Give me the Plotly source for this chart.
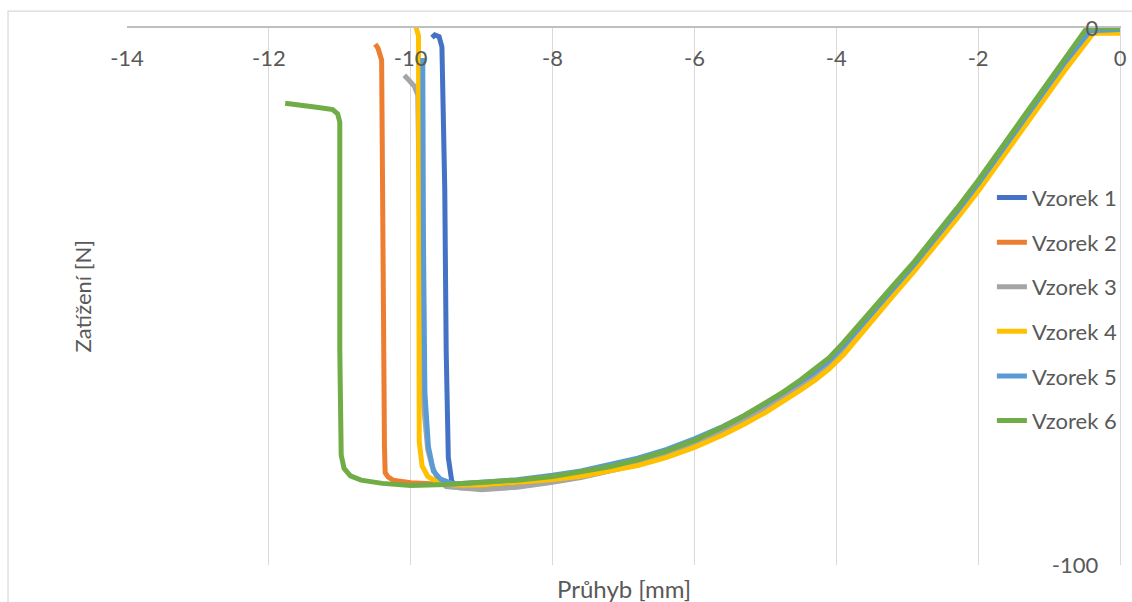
import plotly.graph_objects as go

# Load–deflection records of six specimens (deflection in mm, load in N)
v1_x = [0, -0.40, -0.46, -0.8, -1.1, -1.4, -1.7, -2.0, -2.3, -2.6, -2.9, -3.2, -3.5, -3.7, -3.9,
        -4.1, -4.3, -4.5, -4.75, -5.0, -5.3, -5.6, -6.0, -6.4, -6.8, -7.2, -7.6, -8.0, -8.5, -9.0, -9.3,
        -9.42, -9.47, -9.50, -9.52, -9.54, -9.56, -9.60, -9.66, -9.70]
v1_y = [0, 0, -0.5, -7.2, -12.9, -18.5, -24.0, -29.5, -34.7, -39.7, -44.5, -49.1, -53.6, -56.8, -59.8,
        -62.4, -64.5, -66.3, -68.5, -70.5, -72.8, -74.8, -77.2, -79.3, -81.0, -82.4, -83.5, -84.4, -85.2, -85.6, -85.6,
        -84.5, -80.0, -60.0, -30.0, -8.0, -3.5, -1.6, -1.3, -1.8]

v2_x = [0, -0.42, -0.48, -0.8, -1.1, -1.4, -1.7, -2.0, -2.3, -2.6, -2.9, -3.2, -3.5, -3.7, -3.9,
        -4.1, -4.3, -4.5, -4.75, -5.0, -5.3, -5.6, -6.0, -6.4, -6.8, -7.2, -7.6, -8.0, -8.5, -9.0, -9.5,
        -10.0, -10.25, -10.32, -10.36, -10.37, -10.38, -10.39, -10.41, -10.46, -10.50]
v2_y = [0, 0, -0.6, -7.0, -12.7, -18.3, -23.8, -29.3, -34.5, -39.5, -44.3, -48.9, -53.4, -56.6, -59.6,
        -62.2, -64.3, -66.1, -68.3, -70.3, -72.6, -74.6, -77.0, -79.0, -80.6, -81.9, -82.9, -83.7, -84.4, -84.8, -85.0,
        -84.7, -84.2, -83.6, -82.8, -78.0, -50.0, -20.0, -6.0, -3.8, -3.0]

v3_x = [0, -0.42, -0.48, -0.8, -1.1, -1.4, -1.7, -2.0, -2.3, -2.6, -2.9, -3.2, -3.5, -3.7, -3.9,
        -4.1, -4.3, -4.5, -4.75, -5.0, -5.3, -5.6, -6.0, -6.4, -6.8, -7.2, -7.6, -8.0, -8.5, -9.0, -9.5,
        -9.62, -9.70, -9.76, -9.82, -9.86, -9.88, -9.90, -9.95, -10.02, -10.09]
v3_y = [0, 0, -0.7, -7.3, -13.0, -18.6, -24.1, -29.6, -34.8, -39.8, -44.6, -49.2, -53.8, -57.0, -60.0,
        -62.6, -64.7, -66.5, -68.7, -70.8, -73.1, -75.1, -77.5, -79.6, -81.3, -82.6, -83.7, -84.6, -85.5, -86.0, -85.4,
        -84.0, -81.5, -78.5, -70.0, -50.0, -25.0, -12.5, -10.8, -9.8, -8.8]

v4_x = [0, -0.38, -0.8, -1.1, -1.4, -1.7, -2.0, -2.3, -2.6, -2.9, -3.2, -3.5, -3.7, -3.9,
        -4.1, -4.3, -4.5, -4.75, -5.0, -5.3, -5.6, -6.0, -6.4, -6.8, -7.2, -7.6, -8.0, -8.5, -9.0, -9.4,
        -9.65, -9.76, -9.84, -9.88, -9.89, -9.89, -9.89, -9.93, -10.02]
v4_y = [-1.0, -1.0, -8.3, -13.9, -19.4, -24.9, -30.4, -35.5, -40.5, -45.3, -49.9, -54.5, -57.8, -60.9,
        -63.5, -65.6, -67.4, -69.6, -71.6, -73.8, -75.8, -78.1, -80.0, -81.5, -82.6, -83.5, -84.1, -84.7, -85.1, -85.1,
        -84.4, -83.5, -81.5, -77.0, -40.0, -8.0, -1.5, 0.4, 1.5]

v5_x = [0, -0.42, -0.8, -1.1, -1.4, -1.7, -2.0, -2.3, -2.6, -2.9, -3.2, -3.5, -3.7, -3.9,
        -4.1, -4.3, -4.5, -4.75, -5.0, -5.3, -5.6, -6.0, -6.4, -6.8, -7.2, -7.6, -8.0, -8.5, -9.0, -9.4,
        -9.58, -9.68, -9.75, -9.80, -9.82, -9.83, -9.83]
v5_y = [-0.3, -0.5, -6.8, -12.4, -17.9, -23.4, -29.0, -34.2, -39.2, -44.0, -48.6, -53.2, -56.3, -59.2,
        -61.9, -64.0, -65.8, -68.0, -70.0, -72.2, -74.2, -76.5, -78.5, -80.1, -81.4, -82.5, -83.3, -84.1, -84.6, -84.9,
        -84.0, -82.5, -78.0, -68.0, -40.0, -15.0, -5.6]

v6_x = [0, -0.45, -0.49, -0.8, -1.1, -1.4, -1.7, -2.0, -2.3, -2.6, -2.9, -3.2, -3.5, -3.7, -3.9,
        -4.1, -4.3, -4.5, -4.75, -5.0, -5.3, -5.6, -6.0, -6.4, -6.8, -7.2, -7.6, -8.0, -8.5, -9.0, -9.5,
        -10.0, -10.4, -10.7, -10.85, -10.94, -10.98, -11.0, -11.0, -11.0, -11.03, -11.1, -11.3, -11.5, -11.77]
v6_y = [0, 0, -0.4, -6.2, -11.8, -17.3, -22.8, -28.4, -33.6, -38.7, -43.5, -48.0, -52.6, -55.7, -58.6,
        -61.4, -63.6, -65.5, -67.8, -69.9, -72.2, -74.3, -76.8, -78.8, -80.4, -81.7, -82.7, -83.5, -84.2, -84.7, -85.0,
        -85.2, -84.8, -84.2, -83.4, -82.0, -79.5, -60.0, -30.0, -17.5, -16.0, -15.2, -14.8, -14.5, -14.0]

names = ["Vzorek 1", "Vzorek 2", "Vzorek 3", "Vzorek 4", "Vzorek 5", "Vzorek 6"]
colors = ["#4472C4", "#ED7D31", "#A5A5A5", "#FFC000", "#5B9BD5", "#70AD47"]
series = [(v1_x, v1_y), (v2_x, v2_y), (v3_x, v3_y), (v4_x, v4_y), (v5_x, v5_y), (v6_x, v6_y)]

x_ticks = [-14, -12, -10, -8, -6, -4, -2, 0]
y_ticks = [-100, 0]

FONT = "Lato"
TXT = "#595959"

fig = go.Figure()
for name, color, (xs, ys) in zip(names, colors, series):
    fig.add_trace(go.Scatter(
        x=xs, y=ys, name=name, mode="lines", legendgroup=name,
        line=dict(color=color, width=5, shape="linear"),
    ))

fig.update_layout(
    width=1132, height=602,
    margin=dict(l=127, r=12, t=28, b=37, autoexpand=False),
    paper_bgcolor="white", plot_bgcolor="white",
    font=dict(family=FONT, color=TXT, size=22),
    showlegend=True,
    legend=dict(
        x=0.871, y=0.723, xanchor="left", yanchor="top",
        bgcolor="rgba(0,0,0,0)", font=dict(size=22, color=TXT, family=FONT),
        tracegroupgap=13, itemwidth=30,
    ),
    xaxis=dict(
        range=[-14, 0], tickvals=x_ticks, ticktext=[str(v) for v in x_ticks],
        side="top", ticklabelposition="outside", ticklabelstandoff=-49,
        ticks="", automargin=False,
        showgrid=True, gridcolor="#d9d9d9", gridwidth=1.3,
        showline=True, linecolor="#bfbfbf", linewidth=1.5,
        zeroline=False, tickfont=dict(size=22, color=TXT, family=FONT),
    ),
    yaxis=dict(
        range=[-100, 0], tickvals=y_ticks, ticktext=[str(v) for v in y_ticks],
        side="right", ticklabelposition="inside", ticklabeloverflow="allow",
        ticks="inside", ticklen=23, tickcolor="rgba(0,0,0,0)", automargin=False,
        showgrid=True, gridcolor="#d9d9d9", gridwidth=1.3,
        showline=True, linecolor="#d9d9d9", linewidth=1.3,
        zeroline=False, tickfont=dict(size=22, color=TXT, family=FONT),
    ),
    annotations=[
        dict(text="Zatížení [N]", xref="paper", yref="paper", x=-0.0453, y=0.5,
             textangle=-90, showarrow=False, xanchor="center", yanchor="middle",
             font=dict(size=22, color=TXT, family=FONT)),
        dict(text="Průhyb [mm]", xref="paper", yref="paper", x=0.5, y=-0.043,
             showarrow=False, xanchor="center", yanchor="middle",
             font=dict(size=24, color=TXT, family=FONT)),
    ],
    shapes=[
        dict(type="rect", xref="paper", yref="paper", x0=-0.1198, y0=-0.2, x1=1.1, y1=1.0316,
             line=dict(color="#d9d9d9", width=1.2), fillcolor="rgba(0,0,0,0)", layer="below"),
    ],
)

fig.write_html("out.html")
